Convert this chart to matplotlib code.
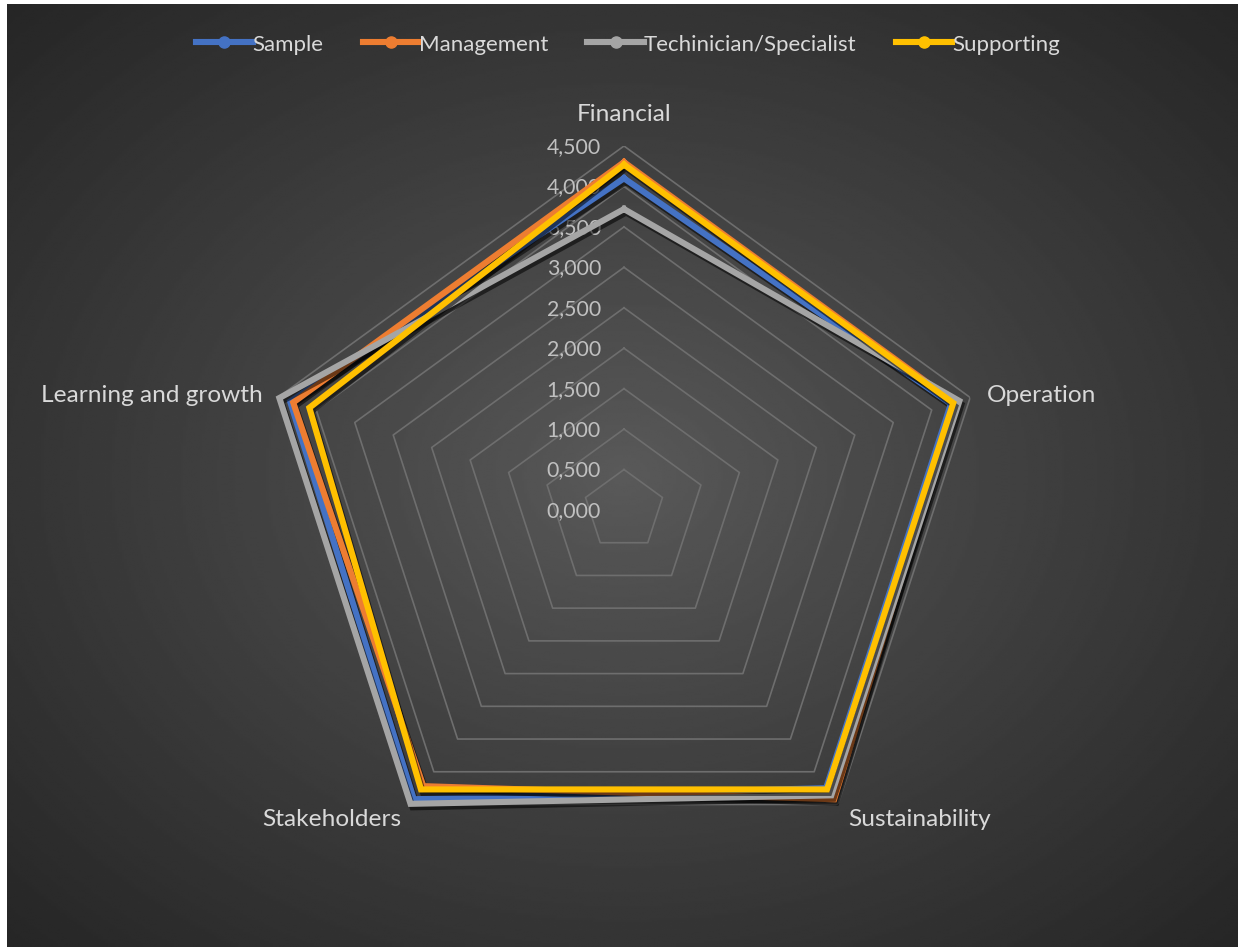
import numpy as np
import matplotlib
matplotlib.use("Agg")
import matplotlib.pyplot as plt
import matplotlib.patheffects as pe
from matplotlib.lines import Line2D

categories = ["Financial", "Operation", "Sustainability", "Stakeholders", "Learning and growth"]
series_names = ["Sample", "Management", "Techinician/Specialist", "Supporting"]
sample = [4.10, 4.25, 4.25, 4.42, 4.34]
management = [4.30, 4.30, 4.42, 4.22, 4.30]
technician = [3.72, 4.36, 4.36, 4.49, 4.48]
supporting = [4.27, 4.28, 4.27, 4.27, 4.09]
ticks = [0.0, 0.5, 1.0, 1.5, 2.0, 2.5, 3.0, 3.5, 4.0, 4.5]
colors = ["#4472C4", "#ED7D31", "#A5A5A5", "#FFC000"]

plt.rcParams['font.family'] = ['Lato', 'DejaVu Sans']
text_col = "#d9d9d9"
tick_col = "#c0c0c0"

W, H = 1239, 953
fig = plt.figure(figsize=(W / 100, H / 100), dpi=100)
fig.patch.set_facecolor("white")

# background with radial gradient
bg = fig.add_axes([7 / W, 5 / H, 1231 / W, 943 / H])
bg.set_axis_off()
yy, xx = np.mgrid[-1:1:400j, -1:1:520j]
d = np.sqrt(xx ** 2 + yy ** 2) / np.sqrt(2)
img = 0x5a - (0x5a - 0x26) * d ** 0.9
bg.imshow(img, cmap="gray", vmin=0, vmax=255, aspect="auto", interpolation="bilinear")

# radar axes
cx, cy, R = 624, 511, 364
ax = fig.add_axes([(cx - R) / W, (H - cy - R) / H, 2 * R / W, 2 * R / H], projection="polar")
ax.patch.set_alpha(0)
ax.set_theta_offset(np.pi / 2)
ax.set_theta_direction(-1)
ax.set_ylim(0, 4.5)
ax.grid(False)
ax.spines["polar"].set_visible(False)
ax.set_xticks([])
ax.set_yticks([])

n = len(categories)
theta = np.linspace(0, 2 * np.pi, n, endpoint=False)
theta_c = np.append(theta, theta[0])

for t in ticks[1:]:
    ax.plot(theta_c, [t] * (n + 1), color="#6e6e6e", lw=1.2, zorder=1)

for t in ticks:
    ax.annotate(f"{t:.3f}".replace(".", ","), (0, t), xytext=(-23, 0), textcoords="offset pixels",
                ha="right", va="center", color=tick_col, fontsize=15.3, zorder=2)

shadow = [pe.SimpleLineShadow(offset=(1.5, -2.5), shadow_color="k", alpha=0.55), pe.Normal()]
for name, vals, c in zip(series_names, [sample, management, technician, supporting], colors):
    ax.plot(theta_c, vals + vals[:1], color=c, lw=4.4, solid_joinstyle="miter",
            path_effects=shadow, zorder=3, clip_on=False)

offsets = [((0, 32), "center", "center"), ((17, 3), "left", "center"),
           ((10, -14), "left", "center"), ((-9, -14), "right", "center"),
           ((-15, 3), "right", "center")]
for cat, t, (off, ha, va) in zip(categories, theta, offsets):
    ax.annotate(cat, (t, 4.5), xytext=off, textcoords="offset pixels", ha=ha, va=va,
                color=text_col, fontsize=17.6, annotation_clip=False)

handles = [Line2D([0], [0], color=c, lw=4.4, marker="o", markersize=8) for c in colors]
fig.legend(handles, series_names, loc="center", bbox_to_anchor=(628 / W, 1 - 45 / H), ncol=4,
           frameon=False, fontsize=16, labelcolor=text_col, handlelength=2.55,
           handletextpad=0.0, columnspacing=1.75)

fig.savefig("out.png", dpi=100, facecolor=fig.get_facecolor())
